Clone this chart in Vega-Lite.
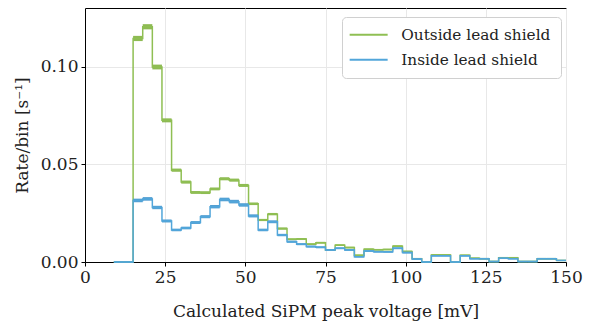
{
  "$schema": "https://vega.github.io/schema/vega-lite/v6.json",
  "autosize": {"type": "none"},
  "width": 481,
  "height": 254,
  "padding": {"left": 85, "top": 8, "right": 26, "bottom": 67},
  "background": "white",
  "config": {
    "view": {"stroke": "black", "strokeWidth": 1},
    "font": "DejaVu Serif",
    "axis": {
      "labelFont": "DejaVu Serif",
      "titleFont": "DejaVu Serif",
      "labelFontSize": 17,
      "titleFontSize": 17,
      "labelColor": "#222",
      "titleColor": "#222",
      "titleFontWeight": "normal",
      "domainColor": "black",
      "tickColor": "black",
      "gridColor": "#e8e8e8",
      "gridWidth": 1,
      "tickSize": 4
    },
    "legend": {
      "labelFont": "DejaVu Serif",
      "labelFontSize": 15.3,
      "labelColor": "#222"
    }
  },
  "datasets": {
    "hist": [
      {"s": "Outside lead shield", "x0": 9, "x1": 12, "v": 0, "e": 0},
      {"s": "Outside lead shield", "x0": 12, "x1": 15, "v": 0, "e": 0},
      {"s": "Outside lead shield", "x0": 15, "x1": 18, "v": 0.1144, "e": 0.0013},
      {"s": "Outside lead shield", "x0": 18, "x1": 21, "v": 0.1204, "e": 0.0013},
      {"s": "Outside lead shield", "x0": 21, "x1": 24, "v": 0.0998, "e": 0.0012},
      {"s": "Outside lead shield", "x0": 24, "x1": 27, "v": 0.0725, "e": 0.001},
      {"s": "Outside lead shield", "x0": 27, "x1": 30, "v": 0.047, "e": 0.0008},
      {"s": "Outside lead shield", "x0": 30, "x1": 33, "v": 0.0409, "e": 0.00077},
      {"s": "Outside lead shield", "x0": 33, "x1": 36, "v": 0.0356, "e": 0.0007},
      {"s": "Outside lead shield", "x0": 36, "x1": 39, "v": 0.0355, "e": 0.0007},
      {"s": "Outside lead shield", "x0": 39, "x1": 42, "v": 0.0374, "e": 0.00072},
      {"s": "Outside lead shield", "x0": 42, "x1": 45, "v": 0.0426, "e": 0.00077},
      {"s": "Outside lead shield", "x0": 45, "x1": 48, "v": 0.0419, "e": 0.00077},
      {"s": "Outside lead shield", "x0": 48, "x1": 51, "v": 0.0392, "e": 0.00074},
      {"s": "Outside lead shield", "x0": 51, "x1": 54, "v": 0.0298, "e": 0.00065},
      {"s": "Outside lead shield", "x0": 54, "x1": 57, "v": 0.0215, "e": 0.00055},
      {"s": "Outside lead shield", "x0": 57, "x1": 60, "v": 0.0245, "e": 0.00059},
      {"s": "Outside lead shield", "x0": 60, "x1": 63, "v": 0.0171, "e": 0.0005},
      {"s": "Outside lead shield", "x0": 63, "x1": 66, "v": 0.0116, "e": 0.0004},
      {"s": "Outside lead shield", "x0": 66, "x1": 69, "v": 0.0118, "e": 0.0004},
      {"s": "Outside lead shield", "x0": 69, "x1": 72, "v": 0.0091, "e": 0.00036},
      {"s": "Outside lead shield", "x0": 72, "x1": 75, "v": 0.0099, "e": 0.00037},
      {"s": "Outside lead shield", "x0": 75, "x1": 78, "v": 0.0062, "e": 0.0003},
      {"s": "Outside lead shield", "x0": 78, "x1": 81, "v": 0.0086, "e": 0.00035},
      {"s": "Outside lead shield", "x0": 81, "x1": 84, "v": 0.0074, "e": 0.00032},
      {"s": "Outside lead shield", "x0": 84, "x1": 87, "v": 0.0034, "e": 0.00022},
      {"s": "Outside lead shield", "x0": 87, "x1": 90, "v": 0.0065, "e": 0.0003},
      {"s": "Outside lead shield", "x0": 90, "x1": 93, "v": 0.0063, "e": 0.0003},
      {"s": "Outside lead shield", "x0": 93, "x1": 96, "v": 0.0064, "e": 0.0003},
      {"s": "Outside lead shield", "x0": 96, "x1": 99, "v": 0.0081, "e": 0.00034},
      {"s": "Outside lead shield", "x0": 99, "x1": 102, "v": 0.0054, "e": 0.00028},
      {"s": "Outside lead shield", "x0": 102, "x1": 105, "v": 0.0017, "e": 0.00016},
      {"s": "Outside lead shield", "x0": 105, "x1": 108, "v": 0, "e": 0},
      {"s": "Outside lead shield", "x0": 108, "x1": 111, "v": 0.0036, "e": 0.00023},
      {"s": "Outside lead shield", "x0": 111, "x1": 114, "v": 0.0036, "e": 0.00023},
      {"s": "Outside lead shield", "x0": 114, "x1": 117, "v": 0, "e": 0},
      {"s": "Outside lead shield", "x0": 117, "x1": 120, "v": 0.0034, "e": 0.00022},
      {"s": "Outside lead shield", "x0": 120, "x1": 123, "v": 0.0019, "e": 0.00017},
      {"s": "Outside lead shield", "x0": 123, "x1": 126, "v": 0.0017, "e": 0.00016},
      {"s": "Outside lead shield", "x0": 126, "x1": 129, "v": 0.0002, "e": 0.00005},
      {"s": "Outside lead shield", "x0": 129, "x1": 132, "v": 0.0022, "e": 0.00018},
      {"s": "Outside lead shield", "x0": 132, "x1": 135, "v": 0.0022, "e": 0.00018},
      {"s": "Outside lead shield", "x0": 135, "x1": 138, "v": 0.0002, "e": 0.00005},
      {"s": "Outside lead shield", "x0": 138, "x1": 141, "v": 0.0002, "e": 0.00005},
      {"s": "Outside lead shield", "x0": 141, "x1": 144, "v": 0.0017, "e": 0.00016},
      {"s": "Outside lead shield", "x0": 144, "x1": 147, "v": 0.0017, "e": 0.00016},
      {"s": "Outside lead shield", "x0": 147, "x1": 150, "v": 0.0008, "e": 0.0001},
      {"s": "Inside lead shield", "x0": 9, "x1": 12, "v": 0, "e": 0},
      {"s": "Inside lead shield", "x0": 12, "x1": 15, "v": 0, "e": 0},
      {"s": "Inside lead shield", "x0": 15, "x1": 18, "v": 0.0315, "e": 0.0009},
      {"s": "Inside lead shield", "x0": 18, "x1": 21, "v": 0.0323, "e": 0.0009},
      {"s": "Inside lead shield", "x0": 21, "x1": 24, "v": 0.0279, "e": 0.00085},
      {"s": "Inside lead shield", "x0": 24, "x1": 27, "v": 0.021, "e": 0.00075},
      {"s": "Inside lead shield", "x0": 27, "x1": 30, "v": 0.0164, "e": 0.00065},
      {"s": "Inside lead shield", "x0": 30, "x1": 33, "v": 0.0174, "e": 0.00067},
      {"s": "Inside lead shield", "x0": 33, "x1": 36, "v": 0.0202, "e": 0.00072},
      {"s": "Inside lead shield", "x0": 36, "x1": 39, "v": 0.0232, "e": 0.00077},
      {"s": "Inside lead shield", "x0": 39, "x1": 42, "v": 0.0283, "e": 0.00085},
      {"s": "Inside lead shield", "x0": 42, "x1": 45, "v": 0.032, "e": 0.0009},
      {"s": "Inside lead shield", "x0": 45, "x1": 48, "v": 0.0309, "e": 0.0009},
      {"s": "Inside lead shield", "x0": 48, "x1": 51, "v": 0.0292, "e": 0.00087},
      {"s": "Inside lead shield", "x0": 51, "x1": 54, "v": 0.0236, "e": 0.00078},
      {"s": "Inside lead shield", "x0": 54, "x1": 57, "v": 0.0164, "e": 0.00065},
      {"s": "Inside lead shield", "x0": 57, "x1": 60, "v": 0.0206, "e": 0.00073},
      {"s": "Inside lead shield", "x0": 60, "x1": 63, "v": 0.0138, "e": 0.0006},
      {"s": "Inside lead shield", "x0": 63, "x1": 66, "v": 0.0104, "e": 0.00052},
      {"s": "Inside lead shield", "x0": 66, "x1": 69, "v": 0.0091, "e": 0.00049},
      {"s": "Inside lead shield", "x0": 69, "x1": 72, "v": 0.0079, "e": 0.00045},
      {"s": "Inside lead shield", "x0": 72, "x1": 75, "v": 0.0075, "e": 0.00044},
      {"s": "Inside lead shield", "x0": 75, "x1": 78, "v": 0.0062, "e": 0.0004},
      {"s": "Inside lead shield", "x0": 78, "x1": 81, "v": 0.007, "e": 0.00042},
      {"s": "Inside lead shield", "x0": 81, "x1": 84, "v": 0.0062, "e": 0.0004},
      {"s": "Inside lead shield", "x0": 84, "x1": 87, "v": 0.0027, "e": 0.00026},
      {"s": "Inside lead shield", "x0": 87, "x1": 90, "v": 0.0056, "e": 0.00038},
      {"s": "Inside lead shield", "x0": 90, "x1": 93, "v": 0.0053, "e": 0.00037},
      {"s": "Inside lead shield", "x0": 93, "x1": 96, "v": 0.0052, "e": 0.00036},
      {"s": "Inside lead shield", "x0": 96, "x1": 99, "v": 0.007, "e": 0.00042},
      {"s": "Inside lead shield", "x0": 99, "x1": 102, "v": 0.0048, "e": 0.00035},
      {"s": "Inside lead shield", "x0": 102, "x1": 105, "v": 0.0015, "e": 0.0002},
      {"s": "Inside lead shield", "x0": 105, "x1": 108, "v": 0, "e": 0},
      {"s": "Inside lead shield", "x0": 108, "x1": 111, "v": 0.0032, "e": 0.00028},
      {"s": "Inside lead shield", "x0": 111, "x1": 114, "v": 0.0032, "e": 0.00028},
      {"s": "Inside lead shield", "x0": 114, "x1": 117, "v": 0, "e": 0},
      {"s": "Inside lead shield", "x0": 117, "x1": 120, "v": 0.0032, "e": 0.00028},
      {"s": "Inside lead shield", "x0": 120, "x1": 123, "v": 0.0017, "e": 0.0002},
      {"s": "Inside lead shield", "x0": 123, "x1": 126, "v": 0.0017, "e": 0.0002},
      {"s": "Inside lead shield", "x0": 126, "x1": 129, "v": 0.0002, "e": 0.00006},
      {"s": "Inside lead shield", "x0": 129, "x1": 132, "v": 0.0019, "e": 0.00021},
      {"s": "Inside lead shield", "x0": 132, "x1": 135, "v": 0.0017, "e": 0.0002},
      {"s": "Inside lead shield", "x0": 135, "x1": 138, "v": 0.0002, "e": 0.00006},
      {"s": "Inside lead shield", "x0": 138, "x1": 141, "v": 0.0002, "e": 0.00006},
      {"s": "Inside lead shield", "x0": 141, "x1": 144, "v": 0.0017, "e": 0.0002},
      {"s": "Inside lead shield", "x0": 144, "x1": 147, "v": 0.0017, "e": 0.0002},
      {"s": "Inside lead shield", "x0": 147, "x1": 150, "v": 0.0008, "e": 0.00014}
    ]
  },
  "data": {"name": "hist"},
  "encoding": {
    "x": {
      "field": "x0", "type": "quantitative",
      "scale": {"domain": [0, 150], "nice": false, "zero": false},
      "axis": {"values": [0, 25, 50, 75, 100, 125, 150], "format": "d", "title": "Calculated SiPM peak voltage [mV]", "titlePadding": 18, "labelPadding": 3, "labelFlush": false}
    },
    "y": {
      "field": "v", "type": "quantitative",
      "scale": {"domain": [0, 0.13], "nice": false},
      "axis": {"values": [0, 0.05, 0.1], "format": ".2f", "title": "Rate/bin [s⁻¹]", "titlePadding": 9, "labelPadding": 3}
    },
    "color": {
      "field": "s", "type": "nominal",
      "scale": {"domain": ["Outside lead shield", "Inside lead shield"], "range": ["#8fbf53", "#52a6da"]},
      "legend": {
        "title": null, "orient": "none", "legendX": 257, "legendY": 9,
        "symbolType": "M-3.8,0H3.8", "symbolSize": 100, "symbolStrokeWidth": 2, "symbolOffset": 9,
        "fillColor": "white", "strokeColor": "#d0d0d0", "cornerRadius": 4,
        "padding": 10, "labelOffset": 25, "rowPadding": 9
      }
    }
  },
  "layer": [
    {
      "transform": [{"filter": "datum.s === 'Outside lead shield'"}],
      "mark": {"type": "rule", "strokeCap": "butt", "opacity": 0.95, "color": "#88b64a"},
      "encoding": {
        "x2": {"field": "x1"},
        "color": {"value": "#88b64a"},
        "size": {"field": "e", "type": "quantitative", "scale": {"domain": [0, 0.0013], "range": [0, 5.2]}, "legend": null}
      }
    },
    {
      "transform": [{"filter": "datum.s === 'Outside lead shield'"}],
      "mark": {"type": "line", "interpolate": "step-after", "strokeWidth": 1.5},
      "encoding": {"order": {"field": "x0", "type": "quantitative"}}
    },
    {
      "transform": [{"filter": "datum.s === 'Outside lead shield'"}],
      "mark": {"type": "rule", "strokeWidth": 1.5},
      "encoding": {"x2": {"field": "x1"}}
    },
    {
      "transform": [{"filter": "datum.s === 'Inside lead shield'"}],
      "mark": {"type": "rule", "strokeCap": "butt", "opacity": 0.95, "color": "#4b9ad0"},
      "encoding": {
        "x2": {"field": "x1"},
        "color": {"value": "#4b9ad0"},
        "size": {"field": "e", "type": "quantitative", "scale": {"domain": [0, 0.0013], "range": [0, 5.2]}, "legend": null}
      }
    },
    {
      "transform": [{"filter": "datum.s === 'Inside lead shield'"}],
      "mark": {"type": "line", "interpolate": "step-after", "strokeWidth": 1.5},
      "encoding": {"order": {"field": "x0", "type": "quantitative"}}
    },
    {
      "transform": [{"filter": "datum.s === 'Inside lead shield'"}],
      "mark": {"type": "rule", "strokeWidth": 1.5},
      "encoding": {"x2": {"field": "x1"}}
    }
  ]
}
